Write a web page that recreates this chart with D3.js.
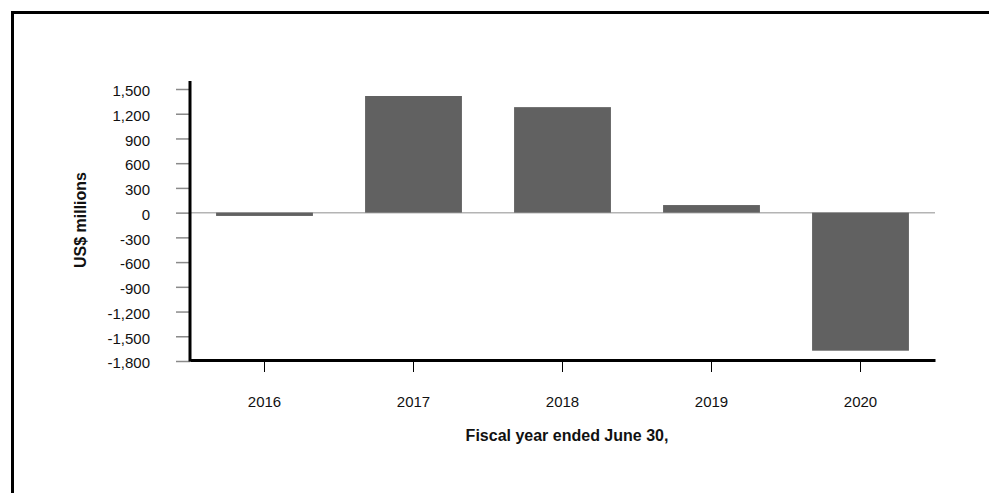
<!DOCTYPE html>
<html>
<head>
<meta charset="utf-8">
<script src="https://cdn.jsdelivr.net/npm/d3@7"></script>
<style>
  body { margin: 0; background: #fff; overflow: hidden; }
  svg { display: block; font-family: "Liberation Sans", Arial, sans-serif; }
</style>
</head>
<body>
<div id="chart"></div>
<script>
// fiscal years and net values (US$ millions)
var years = ['2016', '2017', '2018', '2019', '2020'];
var values = [-40, 1415, 1280, 92, -1675];
var yTicks = [1500, 1200, 900, 600, 300, 0, -300, -600, -900, -1200, -1500, -1800];

var W = 989, H = 493;
var margin = {left: 190, right: 54, top: 89, bottom: 132};

// plain hyphen for negatives, like the original
var locale = d3.formatLocale({decimal: '.', thousands: ',', grouping: [3], currency: ['$', ''], minus: '-'});

var svg = d3.select('#chart').append('svg')
    .attr('width', W)
    .attr('height', H);

// outer frame, only the top and left edges are inside the window
svg.append('path')
    .attr('d', 'M12.5,' + H + 'V12.5H' + W)
    .attr('fill', 'none')
    .attr('stroke', '#000')
    .attr('stroke-width', 3);

var xScale = d3.scaleBand()
    .domain(years)
    .range([margin.left, W - margin.right])
    .paddingInner(0.35)
    .paddingOuter(0.175);

var yScale = d3.scaleLinear()
    .domain([1500, -1800])
    .range([margin.top, H - margin.bottom]);

// y ticks and labels
var yAxis = d3.axisLeft(yScale)
    .tickValues(yTicks)
    .tickSize(14)
    .tickPadding(26)
    .tickFormat(locale.format(','));

var yg = svg.append('g')
    .attr('transform', 'translate(' + margin.left + ',0)')
    .call(yAxis);
yg.select('.domain').remove();
yg.selectAll('.tick line').attr('stroke', '#8a8a8a').attr('stroke-width', 1.5);
yg.selectAll('.tick text')
    .attr('fill', '#111')
    .attr('dy', '0.45em')
    .style('font-size', '15px');

// zero line
svg.append('line')
    .attr('x1', margin.left).attr('x2', W - margin.right)
    .attr('y1', yScale(0)).attr('y2', yScale(0))
    .attr('stroke', '#b4b4b4')
    .attr('stroke-width', 1.5);

// bars
svg.append('g').selectAll('rect')
    .data(years)
    .enter().append('rect')
    .attr('x', function(d) { return xScale(d); })
    .attr('width', xScale.bandwidth())
    .attr('y', function(d, i) { return yScale(Math.max(0, values[i])); })
    .attr('height', function(d, i) { return Math.abs(yScale(values[i]) - yScale(0)); })
    .attr('fill', '#616161');

// x axis
var xAxis = d3.axisBottom(xScale)
    .tickSize(12)
    .tickPadding(24)
    .tickSizeOuter(0);

var xg = svg.append('g')
    .attr('transform', 'translate(0,' + (yScale(-1800) - 1) + ')')
    .call(xAxis);
xg.select('.domain').attr('stroke-width', 3).attr('stroke', '#000');
xg.selectAll('.tick text')
    .attr('fill', '#111')
    .style('font-size', '15px');

// y axis line, runs a little above the top tick
svg.append('line')
    .attr('x1', margin.left).attr('x2', margin.left)
    .attr('y1', 81).attr('y2', yScale(-1800) + 0.5)
    .attr('stroke', '#000')
    .attr('stroke-width', 3);

// axis titles
svg.append('text')
    .attr('x', 567)
    .attr('y', 441)
    .attr('text-anchor', 'middle')
    .attr('fill', '#111')
    .style('font-size', '16px')
    .style('font-weight', 'bold')
    .text('Fiscal year ended June 30,');

svg.append('text')
    .attr('transform', 'translate(86,220) rotate(-90)')
    .attr('text-anchor', 'middle')
    .attr('fill', '#111')
    .style('font-size', '16px')
    .style('font-weight', 'bold')
    .text('US$ millions');
</script>
</body>
</html>
